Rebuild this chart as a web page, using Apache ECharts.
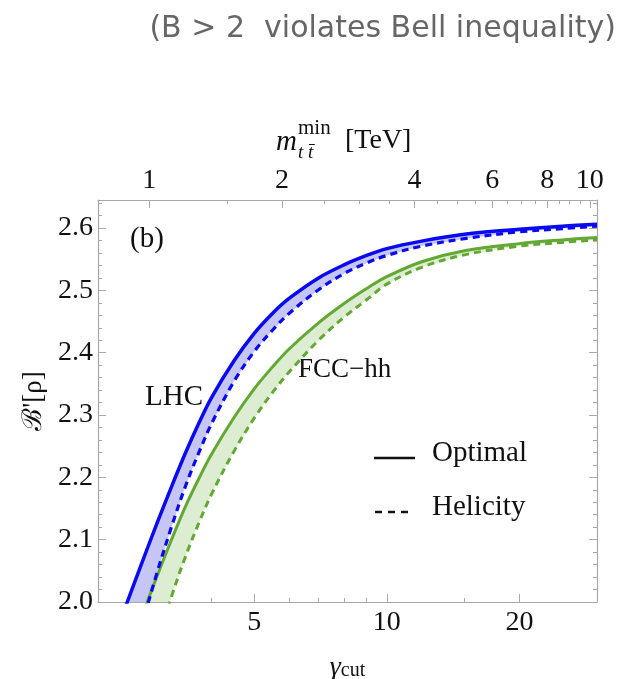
<!DOCTYPE html>
<html><head><meta charset="utf-8">
<script src="https://cdn.jsdelivr.net/npm/echarts@6/dist/echarts.min.js"></script>
<style>html,body{margin:0;padding:0;background:#fff}#c{width:625px;height:679px}</style>
</head><body><div id="c"></div>
<script>
// ---- data ----
const gammaGrid   = [2.25, 2.5, 2.75, 3.0, 3.25, 3.5, 3.75, 4.0, 4.5, 5.0, 5.5, 6.0, 7.0, 8.0, 9.0, 10, 12, 15, 20, 25, 30];
const lhcOptimal  = [1.883, 1.975, 2.054, 2.124, 2.186, 2.241, 2.288, 2.328, 2.387, 2.431, 2.463, 2.487, 2.520, 2.541, 2.556, 2.567, 2.579, 2.590, 2.598, 2.603, 2.606];
const lhcHelicity = [1.700, 1.837, 1.950, 2.044, 2.122, 2.188, 2.241, 2.286, 2.354, 2.402, 2.436, 2.463, 2.501, 2.527, 2.544, 2.556, 2.571, 2.583, 2.594, 2.599, 2.603];
const fccOptimal  = [1.790, 1.887, 1.968, 2.039, 2.101, 2.155, 2.199, 2.237, 2.296, 2.342, 2.377, 2.406, 2.448, 2.479, 2.503, 2.522, 2.546, 2.5635, 2.575, 2.581, 2.585];
const fccHelicity = [1.600, 1.726, 1.836, 1.928, 2.010, 2.075, 2.128, 2.173, 2.242, 2.295, 2.336, 2.369, 2.420, 2.457, 2.485, 2.510, 2.537, 2.557, 2.571, 2.577, 2.581];

const yTickLabels     = [2.0, 2.1, 2.2, 2.3, 2.4, 2.5, 2.6];
const yMinorTicks     = [2.02,2.04,2.06,2.08,2.12,2.14,2.16,2.18,2.22,2.24,2.26,2.28,2.32,2.34,2.36,2.38,2.42,2.44,2.46,2.48,2.52,2.54,2.56,2.58,2.62,2.64];
const gammaTickLabels = [5, 10, 20];
const gammaMinorTicks = [3, 4, 6, 7, 8, 9, 15];
const mttTickLabels   = [1, 2, 4, 6, 8, 10];
const mttMinorTicks   = [1.5, 2.5, 3, 3.5, 4.5, 5, 5.5, 6.5, 7, 7.5, 8.5, 9, 9.5];
const twoMtop = 0.346; // TeV, m_tt = 2 m_t * gamma

const gammaMin = 2.21, gammaMax = 30, yMin = 2.0, yMax = 2.645;

// ---- helpers ----
const lg = v => Math.log10(v);
const xOfGamma = g => lg(g);
const xOfMtt = m => lg(m / twoMtop);
const pairs = (arr) => gammaGrid.map((g, i) => [xOfGamma(g), arr[i]]);

const BLUE = '#0a0af0', GREEN = '#62a833';
const BLUE_FILL = '#c6c6f4', GREEN_FILL = '#dcedd2';
const FRAME = '#a8a8a8';
const SERIF = '"Liberation Serif","DejaVu Serif",serif';
const FS = 28;
const SMOOTH = 0.35;

function bandSeries(top, bot, color) {
  return {
    type: 'custom', xAxisIndex: 0, yAxisIndex: 0, silent: true, z: 1,
    data: [[xOfGamma(gammaGrid[gammaGrid.length - 1]), top[top.length - 1]]],
    renderItem: (params, api) => {
      const upper = gammaGrid.map((g, i) => api.coord([xOfGamma(g), top[i]]));
      const lower = gammaGrid.map((g, i) => api.coord([xOfGamma(g), bot[i]])).reverse();
      const cs = params.coordSys;
      return {
        type: 'polygon',
        shape: {points: upper.concat(lower)},
        style: {fill: color},
        clipPath: {type: 'rect', shape: {x: cs.x, y: cs.y, width: cs.width, height: cs.height}}
      };
    }
  };
}

const grid = {left: 98, right: 28, top: 200, bottom: 77, containLabel: false, outerBoundsMode: 'none'};
const xBase = {type: 'value', min: lg(gammaMin), max: lg(gammaMax), splitLine: {show: false}};
const yBase = {type: 'value', min: yMin, max: yMax, splitLine: {show: false}};

const chart = echarts.init(document.getElementById('c'), null, {renderer: 'canvas'});
chart.setOption({
  animation: false,
  backgroundColor: '#fff',
  title: {
    text: '(B > 2  violates Bell inequality)',
    right: 4, top: 9,
    textStyle: {fontFamily: '"DejaVu Sans", "Open Sans", sans-serif', fontWeight: 'normal', fontSize: 30, color: '#666'}
  },
  grid: [grid, Object.assign({}, grid)],
  xAxis: [
    Object.assign({}, xBase, {
      gridIndex: 0, position: 'bottom',
      axisLine: {show: true, onZero: false, lineStyle: {color: FRAME, width: 1.2}},
      axisTick: {show: true, inside: true, length: 8, customValues: gammaTickLabels.map(xOfGamma), lineStyle: {color: FRAME}},
      axisLabel: {show: true, customValues: gammaTickLabels.map(xOfGamma), margin: 7,
        formatter: v => String(Math.round(Math.pow(10, v))),
        fontFamily: SERIF, fontSize: FS, color: '#111'},
      name: '{g|γ}{s|cut}', nameLocation: 'middle', nameGap: 52,
      nameTextStyle: {rich: {g: {fontFamily: SERIF, fontStyle: 'italic', fontSize: 28, color: '#111'},
                             s: {fontFamily: SERIF, fontSize: 20, color: '#111', padding: [6, 0, 0, 0]}}}
    }),
    Object.assign({}, xBase, {
      gridIndex: 0, position: 'top',
      axisLine: {show: true, onZero: false, lineStyle: {color: FRAME, width: 1.2}},
      axisTick: {show: true, inside: true, length: 8, customValues: mttTickLabels.map(xOfMtt), lineStyle: {color: FRAME}},
      axisLabel: {show: true, customValues: mttTickLabels.map(xOfMtt), margin: 5,
        formatter: v => String(Math.round(Math.pow(10, v) * twoMtop)),
        fontFamily: SERIF, fontSize: FS, color: '#111'}
    }),
    Object.assign({}, xBase, {
      gridIndex: 1, position: 'bottom',
      axisLine: {show: false, onZero: false},
      axisTick: {show: true, inside: true, length: 4, customValues: gammaMinorTicks.map(xOfGamma), lineStyle: {color: FRAME}},
      axisLabel: {show: false}
    }),
    Object.assign({}, xBase, {
      gridIndex: 1, position: 'top',
      axisLine: {show: false, onZero: false},
      axisTick: {show: true, inside: true, length: 4, customValues: mttMinorTicks.map(xOfMtt), lineStyle: {color: FRAME}},
      axisLabel: {show: false}
    })
  ],
  yAxis: [
    Object.assign({}, yBase, {
      gridIndex: 0, position: 'left',
      axisLine: {show: true, onZero: false, lineStyle: {color: FRAME, width: 1.2}},
      axisTick: {show: true, inside: true, length: 8, customValues: yTickLabels, lineStyle: {color: FRAME}},
      axisLabel: {show: true, customValues: yTickLabels, margin: 5, formatter: v => v.toFixed(1),
        fontFamily: SERIF, fontSize: FS, color: '#111'},
      name: 'ℬ\'[ρ]', nameLocation: 'middle', nameGap: 50, nameRotate: 90,
      nameTextStyle: {fontFamily: SERIF, fontSize: 27, color: '#111'}
    }),
    Object.assign({}, yBase, {
      gridIndex: 0, position: 'right',
      axisLine: {show: true, onZero: false, lineStyle: {color: FRAME, width: 1.2}},
      axisTick: {show: true, inside: true, length: 8, customValues: yTickLabels, lineStyle: {color: FRAME}},
      axisLabel: {show: false}
    }),
    Object.assign({}, yBase, {
      gridIndex: 1, position: 'left',
      axisLine: {show: false, onZero: false},
      axisTick: {show: true, inside: true, length: 4, customValues: yMinorTicks, lineStyle: {color: FRAME}},
      axisLabel: {show: false}
    }),
    Object.assign({}, yBase, {
      gridIndex: 1, position: 'right',
      axisLine: {show: false, onZero: false},
      axisTick: {show: true, inside: true, length: 4, customValues: yMinorTicks, lineStyle: {color: FRAME}},
      axisLabel: {show: false}
    })
  ],
  series: [
    bandSeries(lhcOptimal, lhcHelicity, BLUE_FILL),
    bandSeries(fccOptimal, fccHelicity, GREEN_FILL),
    {name: 'FCC-hh Helicity', type: 'line', data: pairs(fccHelicity), symbol: 'none', smooth: SMOOTH,
      lineStyle: {color: GREEN, width: 3, type: [7, 5]}, z: 3},
    {name: 'FCC-hh Optimal', type: 'line', data: pairs(fccOptimal), symbol: 'none', smooth: SMOOTH,
      lineStyle: {color: GREEN, width: 3}, z: 3},
    {name: 'LHC Helicity', type: 'line', data: pairs(lhcHelicity), symbol: 'none', smooth: SMOOTH,
      lineStyle: {color: BLUE, width: 3.2, type: [7, 5]}, z: 4},
    {name: 'LHC Optimal', type: 'line', data: pairs(lhcOptimal), symbol: 'none', smooth: SMOOTH,
      lineStyle: {color: BLUE, width: 3.5}, z: 4}
  ],
  graphic: [
    // top axis title: m_{t tbar}^{min} [TeV]
    {type: 'text', left: 276, top: 128, style: {text: 'm', font: 'italic 29px ' + SERIF, fill: '#111'}},
    {type: 'text', left: 298, top: 118, style: {text: 'min', font: '21px ' + SERIF, fill: '#111'}},
    {type: 'text', left: 298, top: 143, style: {text: 't t\u0304', font: 'italic 19px ' + SERIF, fill: '#111'}},
    {type: 'text', left: 345, top: 127, style: {text: '[TeV]', font: '28px ' + SERIF, fill: '#111'}},
    // panel annotations
    {type: 'text', left: 130, top: 225, style: {text: '(b)', font: '29px ' + SERIF, fill: '#111'}},
    {type: 'text', left: 145, top: 383, style: {text: 'LHC', font: '29px ' + SERIF, fill: '#111'}},
    {type: 'text', left: 298, top: 356, style: {text: 'FCC\u2212hh', font: '27px ' + SERIF, fill: '#111'}},
    // legend
    {type: 'line', shape: {x1: 374, y1: 458, x2: 415, y2: 458}, style: {stroke: '#111', lineWidth: 2.5}},
    {type: 'text', left: 432, top: 439, style: {text: 'Optimal', font: '29px ' + SERIF, fill: '#111'}},
    {type: 'line', shape: {x1: 375, y1: 512, x2: 413, y2: 512}, style: {stroke: '#111', lineWidth: 2.5, lineDash: [7, 6]}},
    {type: 'text', left: 432, top: 493, style: {text: 'Helicity', font: '29px ' + SERIF, fill: '#111'}}
  ]
});
</script>
</body></html>
